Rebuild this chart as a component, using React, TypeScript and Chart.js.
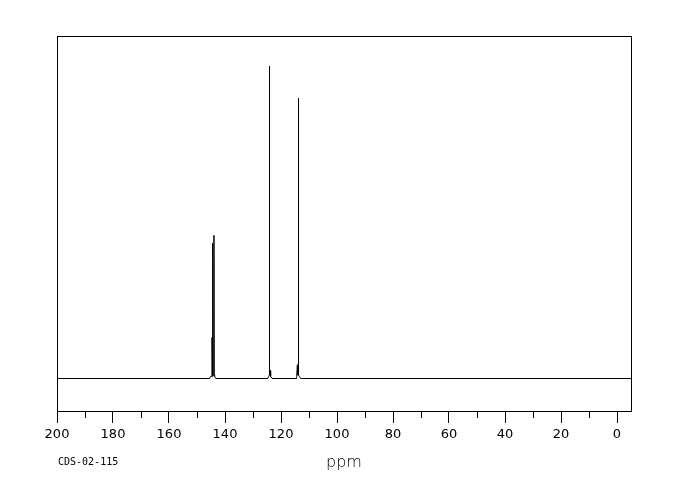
import { useEffect, useRef } from "react";
import { Chart, registerables } from "chart.js";

Chart.register(...registerables);

// Chemical shift (ppm) and relative intensity
const ppmValues: number[] = [
  200,
  145.5, 145.1, 144.68, 144.64, 144.6, 144.35, 144.29, 144.27, 143.95, 143.93, 143.85, 143.7, 143.3,
  124.7, 124.4, 124.13, 124.11, 124.09, 123.75, 123.7, 123.2,
  114.6, 114.4, 114.15, 114.07, 114.0, 113.77, 113.75, 113.73, 113.4, 113.0,
  -5,
];
const intensityValues: number[] = [
  0,
  0, 0.6, 0.6, 12, 0.6, 1, 39.5, 1, 1, 41.8, 1, 0.6, 0,
  0, 0.6, 1, 91.2, 2.3, 2.3, 0.6, 0,
  0, 0.6, 4, 4, 1, 1, 81.9, 1, 0.6, 0,
  0,
];
const majorTicks: number[] = [200, 180, 160, 140, 120, 100, 80, 60, 40, 20, 0];
const minorTicks: number[] = [190, 170, 150, 130, 110, 90, 70, 50, 30, 10];
const xMin = -5;
const xMax = 200;
const yMin = -9.489;
const yMax = 100;
const axisTitle = "ppm";
const sampleId = "CDS-02-115";

const framePlugin = {
  id: "frame",
  afterDraw(chart: any) {
    const { ctx, chartArea: a, scales } = chart;
    const x = scales.x;
    ctx.save();
    ctx.strokeStyle = "#000";
    ctx.lineWidth = 1;
    ctx.strokeRect(a.left + 0.5, a.top + 0.5, a.right - a.left, a.bottom - a.top);
    ctx.beginPath();
    for (const v of minorTicks) {
      const px = Math.round(x.getPixelForValue(v)) + 0.5;
      ctx.moveTo(px, a.bottom);
      ctx.lineTo(px, a.bottom + 7);
    }
    ctx.stroke();
    ctx.fillStyle = "#000";
    ctx.font = '10px "DejaVu Sans Mono"';
    ctx.textBaseline = "middle";
    ctx.textAlign = "left";
    ctx.fillText(sampleId, a.left + 1, 462);
    ctx.restore();
  },
};

export default function App() {
  const canvasRef = useRef<HTMLCanvasElement | null>(null);

  useEffect(() => {
    const canvas = canvasRef.current;
    if (!canvas) return;
    const chart = new Chart(canvas, {
      type: "line",
      data: {
        datasets: [
          {
            data: ppmValues.map((p, i) => ({ x: p, y: intensityValues[i] })),
            borderColor: "#000",
            borderWidth: 1,
            pointRadius: 0,
            tension: 0,
            fill: false,
          },
        ],
      },
      options: {
        responsive: false,
        animation: false,
        events: [],
        layout: { padding: { left: 57, right: 49, top: 36, bottom: 0 } },
        plugins: { legend: { display: false }, tooltip: { enabled: false } },
        scales: {
          x: {
            type: "linear",
            reverse: true,
            min: xMin,
            max: xMax,
            afterBuildTicks: (scale: any) => {
              scale.ticks = majorTicks.map((v) => ({ value: v }));
            },
            afterFit: (scale: any) => {
              scale.height = 89;
            },
            border: { display: false },
            grid: {
              display: true,
              drawOnChartArea: false,
              drawTicks: true,
              tickLength: 12,
              color: "#000",
              lineWidth: 1,
            },
            ticks: {
              autoSkip: false,
              maxRotation: 0,
              padding: 4,
              color: "#000",
              font: { family: "DejaVu Sans", size: 13 },
              callback: (v: any) => String(v),
            },
            title: {
              display: true,
              text: axisTitle,
              color: "#000",
              font: { family: "DejaVu Sans", size: 16, weight: "200" },
              padding: { top: 0, bottom: 28 },
            },
          },
          y: {
            display: false,
            min: yMin,
            max: yMax,
          },
        },
      },
      plugins: [framePlugin],
    });
    return () => chart.destroy();
  }, []);

  return (
    <div style={{ position: "absolute", left: 0, top: 0, width: 680, height: 500, background: "#fff" }}>
      <canvas ref={canvasRef} width={680} height={500} style={{ display: "block" }} />
    </div>
  );
}
